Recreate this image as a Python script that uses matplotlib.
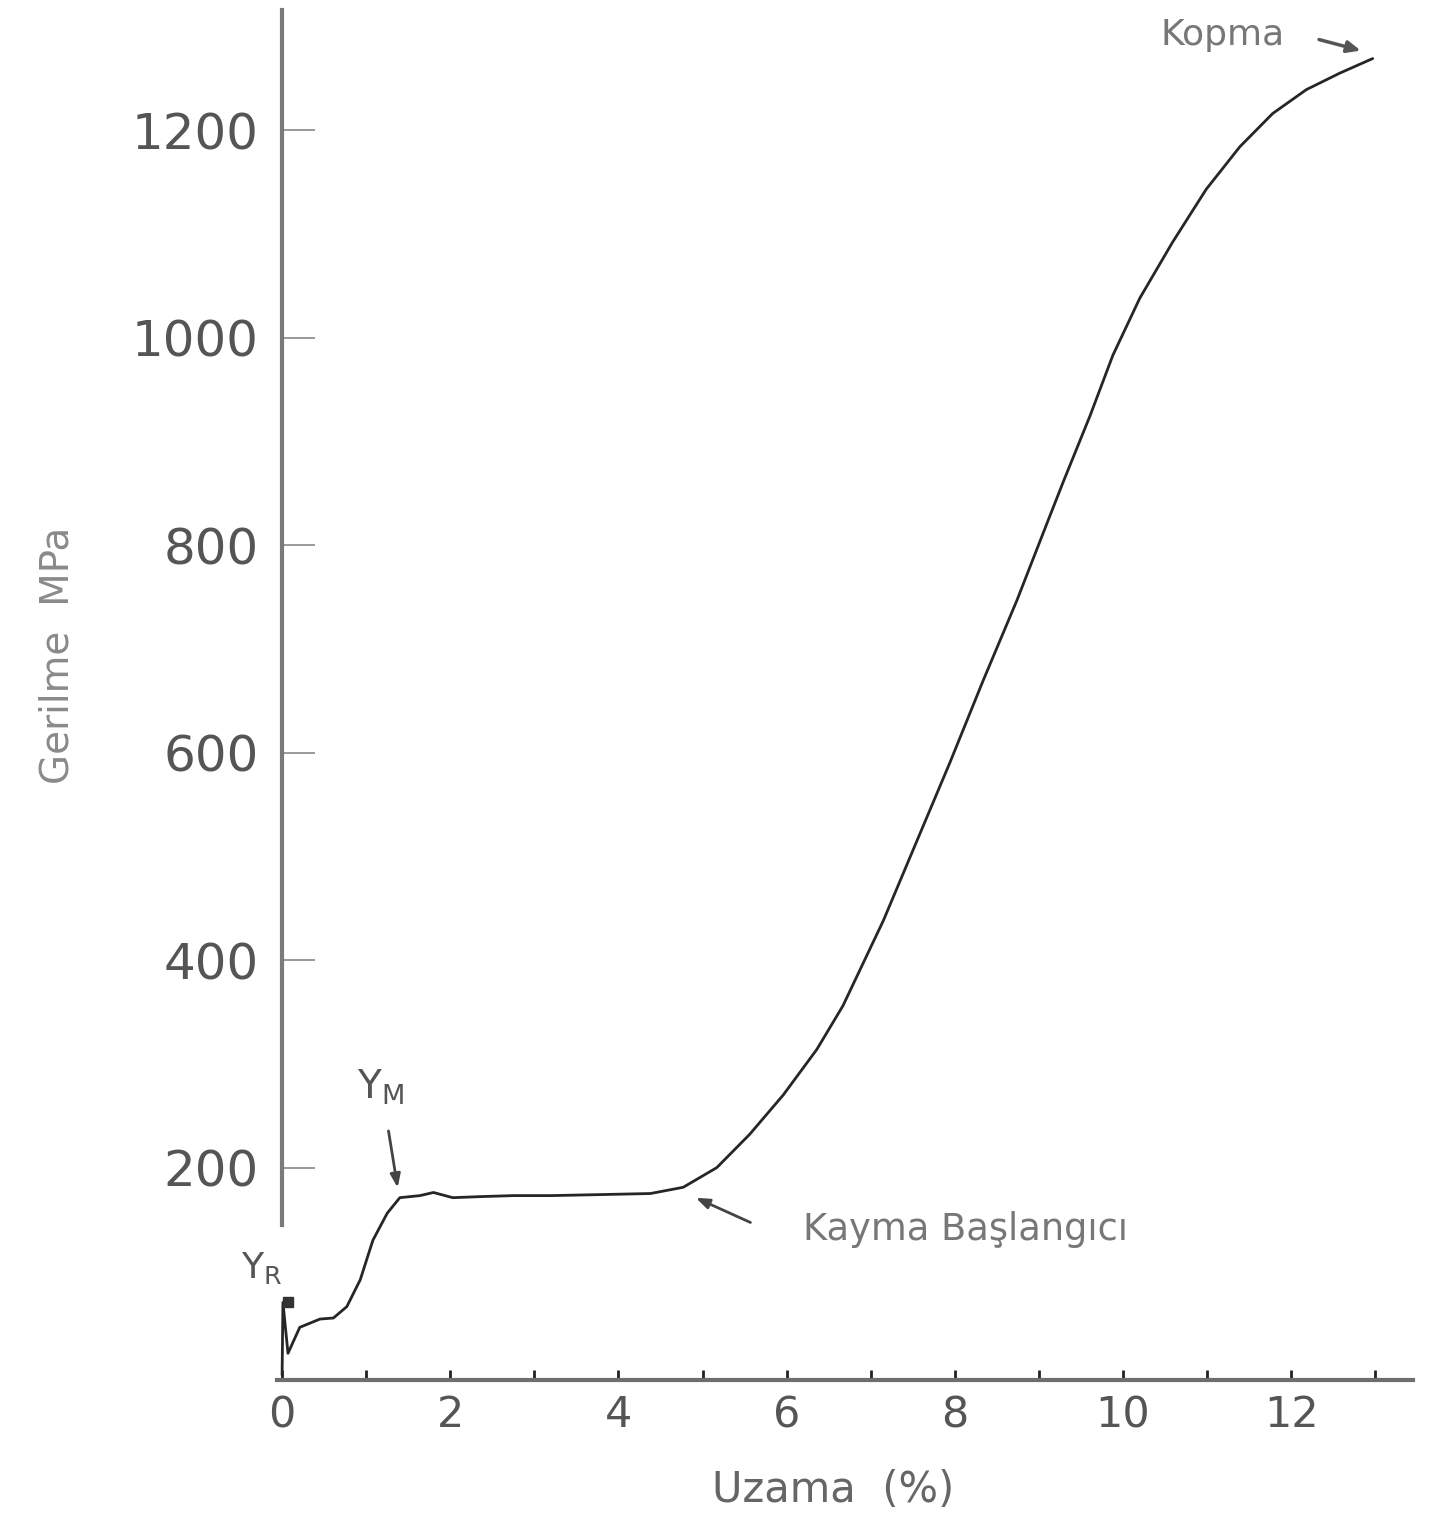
import matplotlib
matplotlib.use("Agg")
import matplotlib.pyplot as plt

# Strain (%) and stress (MPa)
strain = [0.0, 0.01, 0.07, 0.21, 0.45, 0.61, 0.77, 0.93, 1.08, 1.25, 1.40, 1.64,
          1.80, 2.03, 2.35, 2.75, 3.20, 3.80, 4.38, 4.77, 5.17, 5.56, 5.96, 6.36,
          6.67, 7.15, 7.55, 7.94, 8.34, 8.74, 9.13, 9.29, 9.61, 9.88, 10.20,
          10.59, 10.99, 11.39, 11.78, 12.18, 12.58, 12.97]
stress = [0, 70, 21, 46, 54, 55, 66, 92, 130, 156, 171, 173,
          176, 171, 172, 173, 173, 174, 175, 181, 200, 232, 270, 314,
          356, 438, 515, 590, 670, 747, 828, 861, 925, 983, 1038,
          1092, 1143, 1184, 1216, 1239, 1255, 1269]

x_ticks = list(range(0, 14))
x_labels = [str(v) if v % 2 == 0 else "" for v in x_ticks]
y_ticks = [200, 400, 600, 800, 1000, 1200]
y_labels = [str(v) for v in y_ticks]

fig = plt.figure(figsize=(14.49, 15.26), dpi=100)
ax = fig.add_axes([0.1912, 0.0955, 0.784, 0.9008])
ax.set_xlim(-0.06, 13.45)
ax.set_ylim(-5, 1320)

ax.plot(strain, stress, color="#262626", lw=2.0, solid_joinstyle="round",
        solid_capstyle="round")

# spines
for s in ["top", "right"]:
    ax.spines[s].set_visible(False)
ax.spines["left"].set_position(("data", 0))
ax.spines["left"].set_bounds(145, 1316)
ax.spines["left"].set_color("#7a7a7a")
ax.spines["left"].set_linewidth(3)
ax.spines["bottom"].set_color("#6e6e6e")
ax.spines["bottom"].set_linewidth(3)

ax.set_xticks(x_ticks)
ax.set_xticklabels(x_labels)
ax.set_yticks(y_ticks)
ax.set_yticklabels(y_labels)
ax.tick_params(axis="x", direction="in", length=7, width=2, color="#222222",
               pad=10, labelsize=31, labelcolor="#555555")
ax.tick_params(axis="y", direction="in", length=24, width=1.2, color="#888888",
               pad=17, labelsize=36, labelcolor="#555555")

ax.text(-2.67, (1375 - 655) / 1.0375, "Gerilme  MPa", rotation=90,
        ha="center", va="center", fontsize=28, color="#8a8a8a")
ax.text(6.55, (1375 - 1490) / 1.0375, "Uzama  (%)", ha="center", va="center",
        fontsize=30, color="#666666")

# Kopma
ax.annotate("", xy=(12.86, 1276), xytext=(12.30, 1288),
            arrowprops=dict(arrowstyle="-|>,head_length=0.8,head_width=0.35",
                            color="#555555", lw=2.5))
ax.text(11.18, 1292, "Kopma", ha="center", va="center", fontsize=26,
        color="#777777")

# Kayma Başlangıcı
ax.annotate("", xy=(4.89, 172), xytext=(5.6, 146),
            arrowprops=dict(arrowstyle="-|>,head_length=0.8,head_width=0.3",
                            color="#444444", lw=2))
ax.text(8.13, 140, "Kayma Başlangıcı", ha="center", va="center", fontsize=26.5,
        color="#777777")

# Y_M
ax.annotate("", xy=(1.38, 178), xytext=(1.26, 238),
            arrowprops=dict(arrowstyle="-|>,head_length=0.8,head_width=0.3",
                            color="#444444", lw=2))
ax.text(1.17, 277, r"$\mathregular{Y_M}$", ha="center", va="center",
        fontsize=28, color="#555555")

# Y_R
ax.plot([0.07], [70], marker="s", markersize=7, color="#333333")
ax.text(-0.24, 103, r"$\mathregular{Y_R}$", ha="center", va="center",
        fontsize=26, color="#555555")

fig.savefig("out.png", dpi=100, facecolor="white")
